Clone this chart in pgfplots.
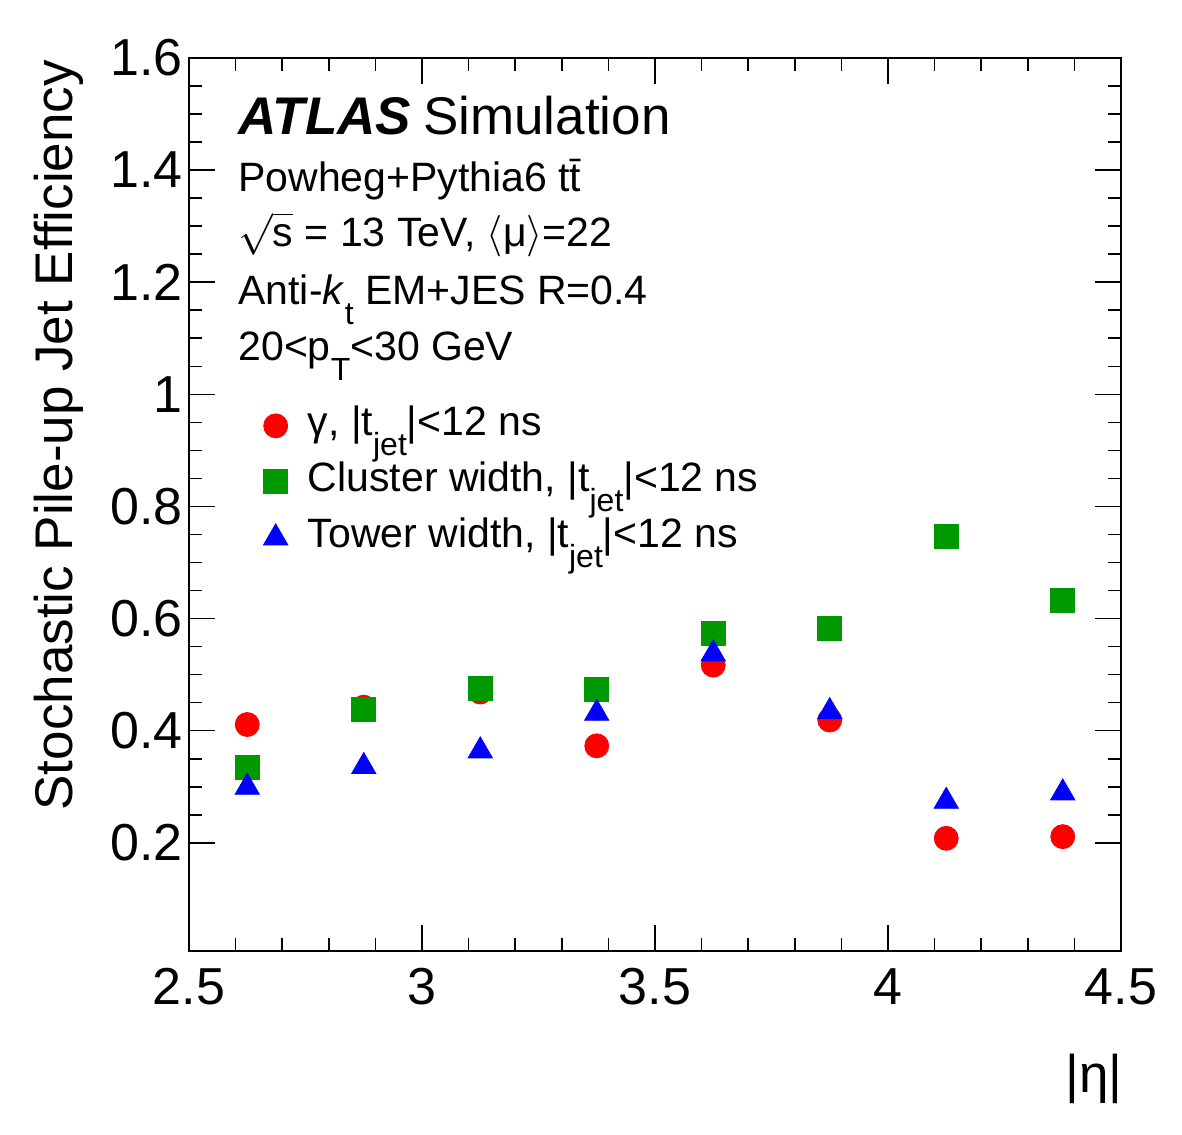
\documentclass[border=0pt]{standalone}
\usepackage{fontspec}
\setmainfont{Liberation Sans}
\usepackage{pgfplots}
\pgfplotsset{compat=1.18}

\definecolor{rootred}{RGB}{255,0,0}
\definecolor{rootgreen}{RGB}{0,153,0}
\definecolor{rootblue}{RGB}{0,0,255}

% ROOT-style lowered subscript
\newcommand{\sub}[1]{\raisebox{-10pt}{\fontsize{16}{16}\selectfont #1}}
\newcommand{\txt}{\fontsize{20.5}{20.5}\selectfont}

\begin{document}
\begin{tikzpicture}
\begin{axis}[
  scale only axis, width=466pt, height=446.5pt,
  xmin=2.5, xmax=4.5, ymin=0.007, ymax=1.6,
  xtick={2.5,3,3.5,4,4.5},
  ytick={0.2,0.4,0.6,0.8,1,1.2,1.4,1.6},
  minor x tick num=4, minor y tick num=3,
  tick align=inside, tick pos=both,
  major tick length=13pt, minor tick length=6.5pt,
  axis line style={line width=1pt},
  every tick/.style={black, line width=0.8pt},
  /pgf/number format/assume math mode=true,
  tick label style={font=\fontsize{26}{26}\selectfont},
  yticklabel style={inner sep=0pt, xshift=-3pt},
  xticklabel style={inner sep=0pt, yshift=-8.5pt},
  ylabel={Stochastic Pile-up Jet Efficiency},
  ylabel style={at={(rel axis cs:-0.1245,0.998)}, anchor=base east,
                inner sep=0pt, font=\fontsize{26.5}{26.5}\selectfont},
  xlabel={|η|},
  xlabel style={at={(rel axis cs:1.002,-0.158)}, anchor=base east,
                inner sep=0pt, font=\fontsize{26.5}{26.5}\selectfont},
  clip=false,
  legend cell align=left,
  legend style={at={(rel axis cs:0.080,0.6175)}, anchor=north west,
                draw=none, fill=none, inner sep=0pt, outer sep=0pt,
                column sep=10pt, row sep=0pt,
                nodes={inner sep=0pt, text height=18pt, text depth=10pt,
                       font=\txt}},
  legend image code/.code={\draw[mark repeat=1,#1] plot coordinates {(0cm,0.03cm)};},
]

% gamma, |t_jet| < 12 ns
\addplot[only marks, mark=*, mark size=6pt, color=rootred] coordinates {
  (2.625,0.411) (2.875,0.442) (3.125,0.469) (3.375,0.373)
  (3.625,0.517) (3.875,0.419) (4.125,0.208) (4.375,0.211)};
\addlegendentry{γ, |t\sub{jet}|<12 ns}

% cluster width, |t_jet| < 12 ns
\addplot[only marks, mark=square*, mark size=6pt, color=rootgreen] coordinates {
  (2.625,0.335) (2.875,0.438) (3.125,0.475) (3.375,0.473)
  (3.625,0.574) (3.875,0.583) (4.125,0.747) (4.375,0.633)};
\addlegendentry{Cluster width, |t\sub{jet}|<12 ns}

% tower width, |t_jet| < 12 ns
\addplot[only marks, mark=triangle*, mark size=7pt, color=rootblue] coordinates {
  (2.625,0.299) (2.875,0.336) (3.125,0.364) (3.375,0.431)
  (3.625,0.537) (3.875,0.434) (4.125,0.274) (4.375,0.289)};
\addlegendentry{Tower width, |t\sub{jet}|<12 ns}

\node[anchor=base west, inner sep=0pt] at (rel axis cs:0.0526,0.9138)
  {\fontsize{26.5}{26.5}\selectfont{\bfseries\itshape ATLAS}\hspace{6pt}Simulation};
\node[anchor=base west, inner sep=0pt] at (rel axis cs:0.0526,0.850)
  {\txt Powheg+Pythia6 t\={t}};
\node[anchor=base west, inner sep=0pt] at (rel axis cs:0.0526,0.7887)
  {\txt $\sqrt{\mbox{s}}$ = 13 TeV, $\langle$μ$\rangle$=22};
\node[anchor=base west, inner sep=0pt] at (rel axis cs:0.0526,0.7234)
  {\txt Anti-\textit{k}\sub{t} EM+JES R=0.4};
\node[anchor=base west, inner sep=0pt] at (rel axis cs:0.0526,0.6618)
  {\txt 20<p\sub{T}<30 GeV};
\end{axis}
\path ([shift={(-94.5pt,-91.5pt)}]current axis.south west)
  rectangle ([shift={(30.5pt,29pt)}]current axis.north east);
\end{tikzpicture}
\end{document}
